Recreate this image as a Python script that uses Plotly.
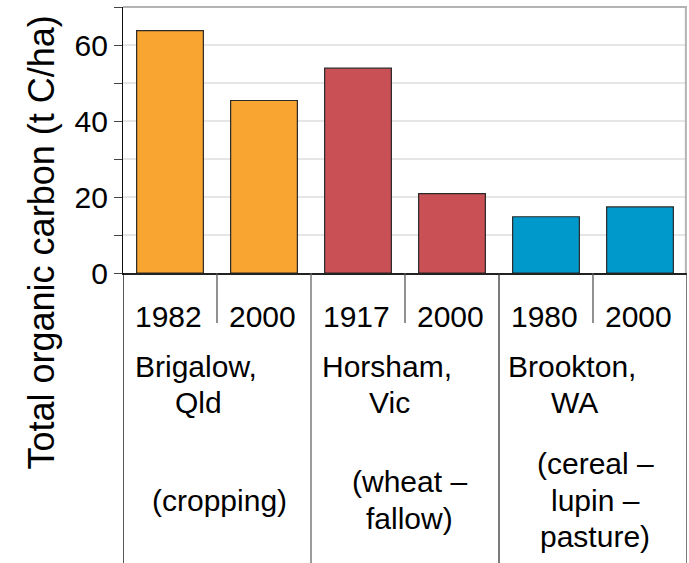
import plotly.graph_objects as go

# ---- data ----
years = ["1982", "2000", "1917", "2000", "1980", "2000"]
carbon = [63.8, 45.4, 53.9, 20.9, 14.8, 17.4]
bar_colors = ["#F8A531", "#F8A531", "#C95055", "#C95055", "#0099CC", "#0099CC"]
site_names = [["Brigalow,", "Qld"], ["Horsham,", "Vic"], ["Brookton,", "WA"]]
site_descs = [["(cropping)"], ["(wheat \u2013", "fallow)"], ["(cereal \u2013", "lupin \u2013", "pasture)"]]
y_title = "Total organic carbon (t C/ha)"
y_ticks = [0, 20, 40, 60]

FONT = "Liberation Sans, Arial, sans-serif"
W, H = 689, 563
ML, MR, MT, MB = 123, 2, 7, 290
PH = H - MT - MB  # plot height in px

def py(px_y):
    """convert a pixel y (from top) to paper y"""
    return (H - MB - px_y) / PH

x = list(range(len(years)))

fig = go.Figure()
fig.add_trace(go.Bar(
    x=x, y=carbon, width=0.71,
    marker=dict(color=bar_colors, line=dict(color="#2a2a2a", width=1.2)),
    hoverinfo="y", showlegend=False,
))

annotations = []
# year labels
for i, yr in enumerate(years):
    annotations.append(dict(x=i, y=py(316), xref="x", yref="paper", text=yr,
                            showarrow=False, xanchor="center", yanchor="middle",
                            xshift=-2, font=dict(family=FONT, size=30, color="#000")))
# site labels
name_shift = [-21, -18, -21]
desc_shift = [2, 4, 2]
for g, (names, descs) in enumerate(zip(site_names, site_descs)):
    cx = 2 * g + 0.5
    for k, line in enumerate(names):
        annotations.append(dict(x=cx, y=py(366 + 36.5 * k), xref="x", yref="paper", text=line,
                                showarrow=False, xanchor="center", yanchor="middle",
                                xshift=name_shift[g] + (2 if k else 0),
                                font=dict(family=FONT, size=30, color="#000")))
    n = len(descs)
    for k, line in enumerate(descs):
        yc = 500 + (k - (n - 1) / 2) * 36.5
        annotations.append(dict(x=cx, y=py(yc), xref="x", yref="paper", text=line,
                                showarrow=False, xanchor="center", yanchor="middle",
                                xshift=desc_shift[g],
                                font=dict(family=FONT, size=30, color="#000")))
# y title
annotations.append(dict(x=(41 - ML) / (W - ML - MR), y=py(242.5), xref="paper", yref="paper",
                        text=y_title, textangle=-90, showarrow=False,
                        xanchor="center", yanchor="middle",
                        font=dict(family=FONT, size=36, color="#000")))

shapes = []
# group dividers (long) and within-group dividers (short)
n_groups = len(site_names)
for g in range(n_groups + 1):
    xv = 2 * g - 0.5
    col = "#000" if g == 0 else ("#666" if g == 1 else "#333")
    shapes.append(dict(type="line", xref="x", yref="paper", x0=xv, x1=xv,
                       y0=0, y1=py(H), line=dict(color=col, width=1.3)))
for g in range(n_groups):
    xv = 2 * g + 0.5
    shapes.append(dict(type="line", xref="x", yref="paper", x0=xv, x1=xv,
                       y0=0, y1=py(323), line=dict(color="#555", width=1.3)))
# top and right frame
shapes.append(dict(type="line", xref="paper", yref="paper", x0=0, x1=1, y0=1, y1=1,
                   line=dict(color="#b3b3b3", width=2)))
shapes.append(dict(type="line", xref="paper", yref="paper", x0=0.998, x1=0.998, y0=0, y1=1,
                   line=dict(color="#b3b3b3", width=2)))

fig.update_layout(
    width=W, height=H,
    margin=dict(l=ML, r=MR, t=MT, b=MB, pad=0),
    paper_bgcolor="white", plot_bgcolor="white",
    font=dict(family=FONT, size=30, color="#000"),
    bargap=0.29,
    xaxis=dict(range=[-0.5, len(years) - 0.5], showticklabels=False, ticks="",
               showgrid=False, zeroline=False, showline=True, linecolor="#222", linewidth=1.5,
               fixedrange=True),
    yaxis=dict(range=[0, 70], tickvals=y_ticks, ticks="outside", ticklen=8, tickwidth=1.2,
               tickcolor="#444", showline=True, linecolor="#111", linewidth=1.3,
               showgrid=True, gridcolor="#e6e6e6", gridwidth=1.5, zeroline=False,
               tickfont=dict(family=FONT, size=30, color="#000"),
               minor=dict(tickvals=[10, 30, 50, 70], ticks="outside", ticklen=8,
                          tickcolor="#444", tickwidth=1.2, showgrid=True,
                          gridcolor="#e6e6e6", gridwidth=1.5),
               fixedrange=True),
    annotations=annotations,
    shapes=shapes,
)

fig.write_html(
    "out.html",
    config={"displayModeBar": False},
    post_script="document.body.style.margin='0';document.body.style.overflow='hidden';",
)
